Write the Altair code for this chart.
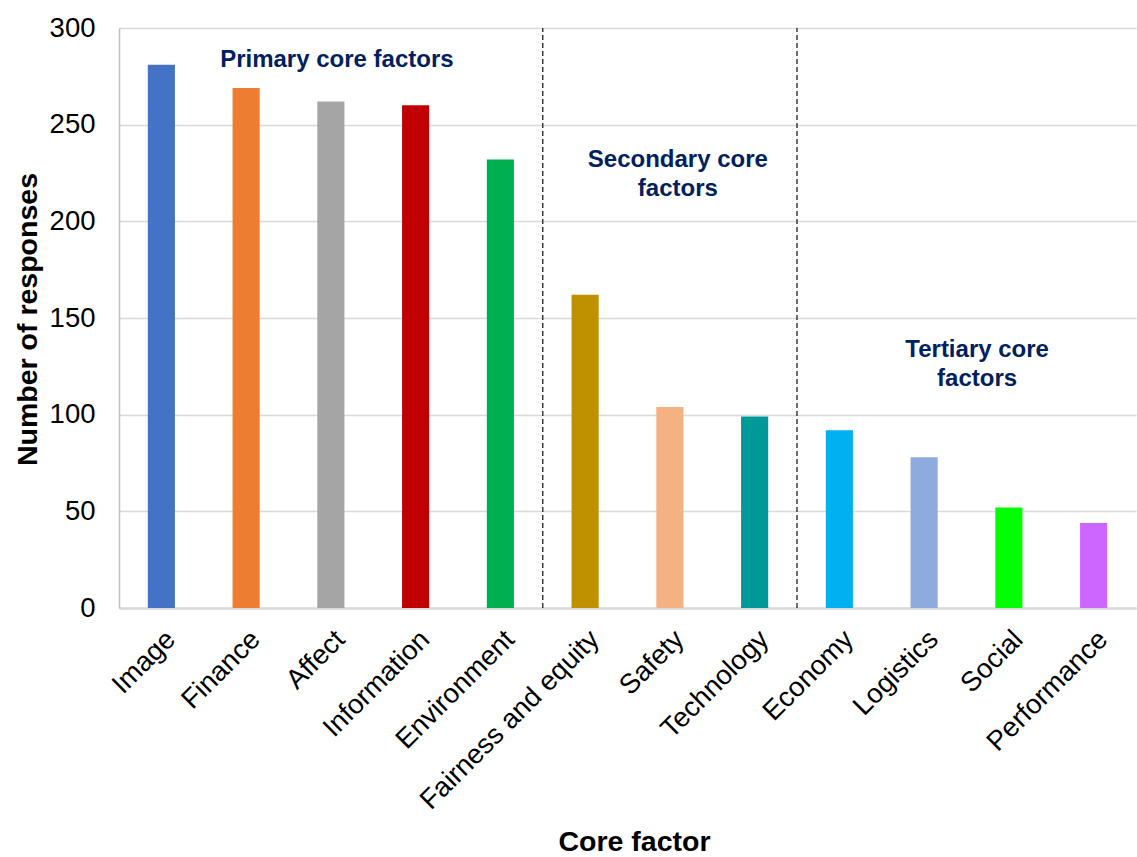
import altair as alt
import pandas as pd

categories = ["Image", "Finance", "Affect", "Information", "Environment",
              "Fairness and equity", "Safety", "Technology", "Economy",
              "Logistics", "Social", "Performance"]
values = [281, 269, 262, 260, 232, 162, 104, 99, 92, 78, 52, 44]
colors = ["#4472C4", "#ED7D31", "#A5A5A5", "#C00000", "#00B050", "#BF9000",
          "#F4B183", "#009999", "#00B0F0", "#8FAADC", "#00FF00", "#CC66FF"]

group_texts = ["Primary core factors", "Secondary core\nfactors", "Tertiary core\nfactors"]
group_anchor = ["Affect", "Safety", "Logistics"]
group_y = [283.5, 231.5, 133.5]
group_dx = [6, 8, 53]

divider_cats = ["Fairness and equity", "Economy"]

FONT = "Liberation Sans"
NAVY = "#002060"

df = pd.DataFrame({"cat": categories, "val": values})
ann = pd.DataFrame({"cat": group_anchor, "y": group_y, "t": group_texts, "dx": group_dx})
div = pd.DataFrame({"cat": divider_cats, "y0": [0] * 2, "y1": [300] * 2})

xscale = alt.Scale(domain=categories, paddingInner=0, paddingOuter=0)
yscale = alt.Scale(domain=[0, 300], nice=False)

bars = alt.Chart(df).mark_bar(width=alt.RelativeBandSize(0.32)).encode(
    x=alt.X("cat:N", scale=xscale, sort=categories, title="Core factor",
            axis=alt.Axis(labelAngle=-45, labelFontSize=27.5, labelFont=FONT,
                          labelColor="black", labelPadding=17, ticks=False,
                          domainColor="#d9d9d9", domainWidth=2.5, labelLimit=0,
                          titleFont=FONT, titleFontSize=28.5, titleFontWeight="bold",
                          titleColor="black", titleX=515, titleY=233,
                          titleBaseline="middle", labelOverlap=False)),
    y=alt.Y("val:Q", scale=yscale, title="Number of responses",
            axis=alt.Axis(values=[0, 50, 100, 150, 200, 250, 300], labelFontSize=27.5,
                          labelFont=FONT, labelColor="black", labelPadding=24,
                          ticks=False, domainColor="#c0c0c0", domainWidth=1.5,
                          gridColor="#d9d9d9", gridWidth=1.5,
                          titleFont=FONT, titleFontSize=28.5, titleFontWeight="bold",
                          titleColor="black", titleX=-92, titleY=291,
                          titleBaseline="middle")),
    color=alt.Color("cat:N", scale=alt.Scale(domain=categories, range=colors), legend=None),
)

rules = alt.Chart(div).mark_rule(color="#303030", strokeDash=[5, 3], strokeWidth=1.4).encode(
    x=alt.X("cat:N", scale=xscale, sort=categories, bandPosition=0),
    y=alt.Y("y0:Q", scale=yscale),
    y2="y1:Q",
)

texts_list = []
for i in range(len(group_texts)):
    sub = ann.iloc[[i]]
    texts_list.append(
        alt.Chart(sub).mark_text(font=FONT, fontSize=24, fontWeight="bold", color=NAVY,
                                 lineBreak="\n", lineHeight=29, align="center",
                                 baseline="middle", dx=int(group_dx[i])).encode(
            x=alt.X("cat:N", scale=xscale, sort=categories, bandPosition=0.5),
            y=alt.Y("y:Q", scale=yscale),
            text="t:N",
        )
    )

chart = alt.layer(bars, rules, *texts_list).properties(
    width=1017, height=580,
    autosize=alt.AutoSizeParams(type="none"),
    padding={"left": 119, "top": 28, "right": 1, "bottom": 249},
    background="white",
).configure_view(stroke=None)

chart.save("out.html", embed_options={"renderer": "svg", "actions": False})
